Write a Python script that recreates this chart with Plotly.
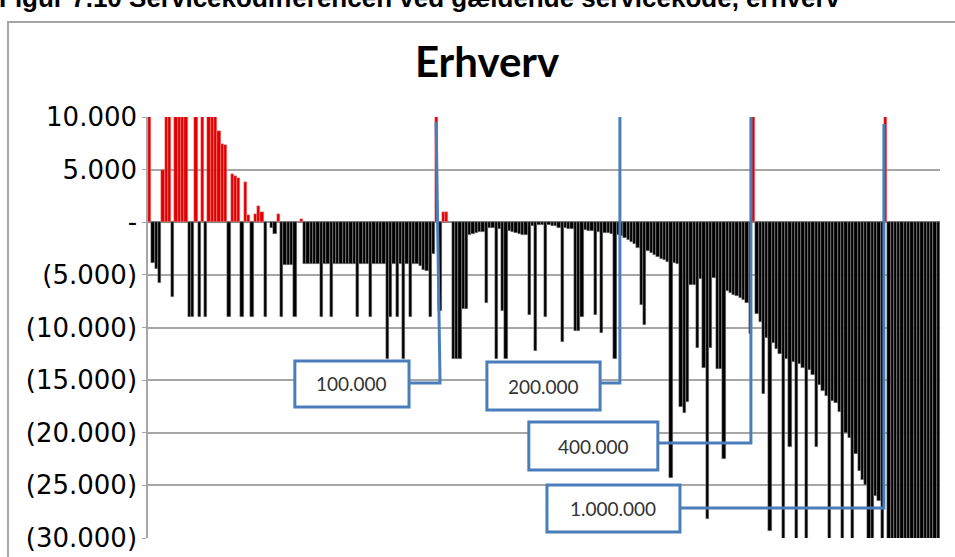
import plotly.graph_objects as go

# Servicekodifference per virksomhed (i 1.000), sorteret som i kilden
diff_k = [
    12, -3.9, -4.4, -5.8, 5.0, 12, 12, -7.1, 12, 12,
    12, 12, -9, -9, 12, -9, 12, -9, 12, 12,
    12, 8.7, 7.4, 7.3, -9, 4.6, 4.4, 4.2, -9, 3.8,
    0.7, -9, 0.8, 1.5, 1.0, -9, 0, -0.5, -1.1, 0.8,
    -9, -4.1, -4.1, -4.1, -9, 0, 0.3, -4, -4, -4,
    -4, -4, -9, -4, -4, -9, -4, -4, -4, -4,
    -4, -4, -4, -9, -4, -4, -4, -9, -4, -4,
    -4, -4, -13, -9, -4, -9, -4, -13, -4, -9,
    -4, -4, -4.2, -4.5, -4.6, -9, -3.0, 12, -8.4, 1.0,
    1.0, 0, -13, -13, -13, -8.2, -8.2, -1.2, -1.1, -1.0,
    -0.9, -0.9, -7.7, -0.5, -0.5, -13, -0.6, -8.4, -13, -0.8,
    -0.9, -1.0, -1.1, -1.2, -1.2, -8.8, -0.4, -12.2, -0.3, -0.3,
    -9, -0.3, -0.4, -0.4, -0.5, -11.4, -0.5, -0.6, -0.6, -10.3,
    -10.3, -9, -0.7, -0.8, -0.8, -8.8, -0.9, -10.5, -1.0, -1.0,
    -1.1, -13, -1.2, -1.3, -1.5, -1.7, -1.9, -2.1, -2.4, -7.9,
    -9.8, -2.7, -2.9, -3.1, -3.3, -3.5, -3.6, -3.8, -24.3, -3.9,
    -4.0, -17.6, -18.1, -17.1, -6.0, -6.0, -11.9, -5.4, -13.8, -28.2,
    -11.9, -5.3, -13.9, -13.9, -22.5, -6.5, -6.7, -6.9, -7.0, -7.2,
    -7.4, -7.7, -10.6, 12, -8.7, -9.5, -16.3, -11.0, -29.3, -11.5,
    -12.0, -12.5, -31, -13.0, -21.4, -13.3, -31, -13.5, -13.8, -31,
    -14.0, -14.5, -21.4, -15.5, -16.0, -16.5, -31, -17.0, -17.2, -18.0,
    -31, -20.0, -20.5, -31, -22.0, -23.6, -24.5, -25.0, -31, -31,
    -26.0, -26.5, -31, 12, -31, -31, -31, -31, -31, -31,
    -31, -31, -31, -31, -31, -31, -31, -31, -31, -31,
]
values = [v * 1000 for v in diff_k]
positions = list(range(len(values)))

tick_vals = [10000, 5000, 0, -5000, -10000, -15000, -20000, -25000, -30000]
tick_text = ["10.000", "5.000", "-", "(5.000)", "(10.000)", "(15.000)",
             "(20.000)", "(25.000)", "(30.000)"]

# callouts: label, box (x0, x1, y0, y1) in bar/value units, connector y, target bar x, top y
callouts = [
    ("100.000", (44.0, 78.6, -17550, -13180), -15270, (88.0, 86.8), 9525),
    ("200.000", (102.2, 136.5, -17840, -13280), -15270, (142.5, 142.5), 10400),
    ("400.000", (114.9, 154.0, -23540, -18980), -20970, (182.2, 182.2), 10400),
    ("1.000.000", (120.4, 160.7, -29430, -24960), -27150, (222.5, 222.5), 9330),
]

BLUE = "#4a7ebb"
fill = ["#e00000" if v > 0 else "#000000" for v in values]
edge = ["#f2a0a0" if v > 0 else "#a8a8a8" for v in values]

fig = go.Figure(go.Bar(
    x=positions, y=values,
    marker=dict(color=fill, line=dict(color=edge, width=0.45)),
    hoverinfo="skip",
))

W, H = 955, 557
L, R, T, B = 148, 15, 117, 19


def px_x(p):
    return (p - L) / (W - L - R)


def px_y(p):
    return (H - B - p) / (H - T - B)


shapes = [
    # chart area border
    dict(type="rect", xref="paper", yref="paper",
         x0=px_x(8), x1=px_x(975), y0=px_y(22), y1=px_y(580),
         line=dict(color="#a6a6a6", width=2), layer="below"),
]
annotations = [
    dict(text="<b>Figur 7.10 Servicekodifferencen ved gældende servicekode, erhverv</b>",
         xref="paper", yref="paper", x=px_x(-3), y=px_y(15),
         xanchor="left", yanchor="bottom", showarrow=False,
         font=dict(family="Liberation Sans", size=26, color="#000000")),
]
for label, (x0, x1, y0, y1), yc, (xb, xt), ytop in callouts:
    shapes.append(dict(type="path", xref="x", yref="y",
                       path=f"M {x1},{yc} L {xb},{yc} L {xt},{ytop}",
                       line=dict(color=BLUE, width=3)))
    shapes.append(dict(type="rect", xref="x", yref="y",
                       x0=x0, x1=x1, y0=y0, y1=y1,
                       fillcolor="white", line=dict(color=BLUE, width=3)))
    annotations.append(dict(text=label, xref="x", yref="y",
                            x=(x0 + x1) / 2, y=(y0 + y1) / 2,
                            showarrow=False,
                            font=dict(family="Lato", size=19, color="#333333")))

fig.update_layout(
    width=W, height=H,
    margin=dict(l=L, r=R, t=T, b=B, autoexpand=False),
    paper_bgcolor="white", plot_bgcolor="white",
    bargap=0, showlegend=False,
    title=dict(text="<b>Erhverv</b>", x=0.51, xref="container", xanchor="center",
               y=1 - 62 / H, yref="container", yanchor="middle",
               font=dict(family="Lato", size=42, color="#000000")),
    xaxis=dict(range=[-0.5, len(values) - 0.5], visible=False),
    yaxis=dict(range=[-30000, 10000], tickvals=tick_vals, ticktext=tick_text,
               showgrid=True, gridcolor="#a6a6a6", gridwidth=1.5,
               zeroline=True, zerolinecolor="#808080", zerolinewidth=1.5,
               showline=True, linecolor="#a6a6a6", linewidth=1.5,
               ticks="outside", ticklen=4, tickcolor="#a6a6a6",
               tickfont=dict(family="DejaVu Sans", size=26, color="#000000")),
    shapes=shapes,
    annotations=annotations,
)

fig.write_html(
    "out.html",
    config={"displayModeBar": False},
    post_script="document.body.style.margin='0';document.body.style.overflow='hidden';",
)
